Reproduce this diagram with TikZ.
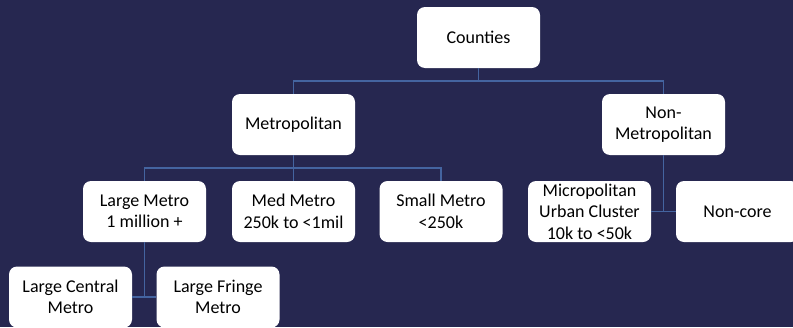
\documentclass[tikz,border=0pt]{standalone}
\usepackage{fontspec}
\setmainfont{Carlito}
\definecolor{navy}{RGB}{38,39,80}
\definecolor{linkblue}{RGB}{68,100,160}
\tikzset{
  box/.style={rectangle, rounded corners=8pt, fill=white, text=black, align=center,
    minimum width=123pt, minimum height=61pt, inner sep=2pt,
    font=\fontsize{18}{21.5}\selectfont},
  link/.style={draw=linkblue, line width=1.8pt}
}
\begin{document}
\begin{tikzpicture}[x=1pt,y=-1pt]

\fill[navy] (0,0) rectangle (793,327);
\useasboundingbox (0,0) rectangle (793,327);
\clip (0,0) rectangle (793,327);

%%%%%% Boxes %%%%%%%

\node (counties) at (478.5,37.5) [box] {Counties};

\node (metro) at (293.5,124.5) [box] {Metropolitan};
\node (nonmetro) at (663.5,124.5) [box] {Non-\\Metropolitan};

\node (large) at (144.5,211.5) [box] {Large Metro\\1 million +};
\node (med) at (293.5,211.5) [box] {Med Metro\\250k to <1mil};
\node (small) at (441,211.5) [box] {Small Metro\\<250k};
\node (micro) at (589.5,211.5) [box] {Micropolitan\\Urban Cluster\\10k to <50k};
\node (noncore) at (737.5,211.5) [box] {Non-core};

\node (central) at (70.5,297) [box] {Large Central\\Metro};
\node (fringe) at (218,297) [box] {Large Fringe\\Metro};

%%%%%% Connectors %%%%%%%

\coordinate (top) at (478.5,81);
\coordinate (mid) at (293.5,168);

\draw[link] (counties.south) -- (top);
\draw[link] (top) -| (metro.north);
\draw[link] (top) -| (nonmetro.north);

\draw[link] (metro.south) -- (mid);
\draw[link] (mid) -| (large.north);
\draw[link] (mid) -- (med.north);
\draw[link] (mid) -| (small.north);

\draw[link] (large.south) |- (central.east);
\draw[link] (large.south) |- (fringe.west);

\draw[link] (nonmetro.south) |- (micro.east);
\draw[link] (nonmetro.south) |- (noncore.west);

\end{tikzpicture}
\end{document}
